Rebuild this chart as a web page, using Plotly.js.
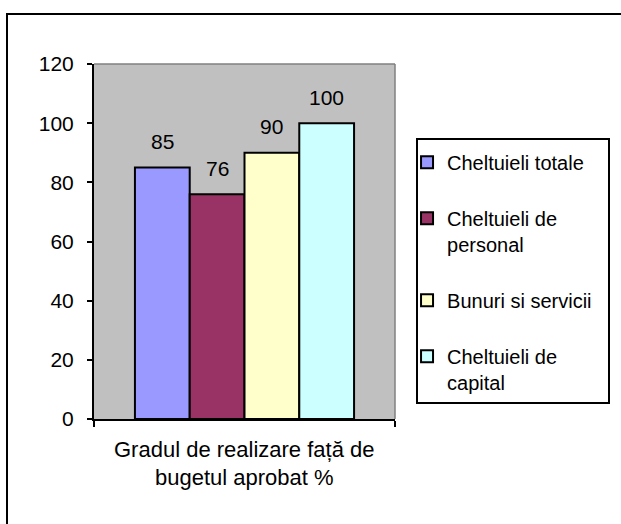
<!DOCTYPE html>
<html>
<head>
<meta charset="utf-8">
<script src="https://cdn.plot.ly/plotly-3.0.1.min.js"></script>
<style>
  html, body { margin: 0; padding: 0; background: #fff; overflow: hidden; }
  #wrap { position: relative; width: 621px; height: 524px; }
  #chart { position: absolute; left: 0; top: 0; width: 621px; height: 524px; }
  #frame { position: absolute; left: 6px; top: 13px; width: 615px; height: 511px;
           border-left: 2px solid #000; border-top: 2px solid #000; pointer-events: none; }
</style>
</head>
<body>
<div id="wrap"><div id="chart"></div><div id="frame"></div></div>
<script>
// ---- data ----
const categories = ["Gradul de realizare față de bugetul aprobat %"];
const categoryLabelLines = ["Gradul de realizare față de", "bugetul aprobat %"];
const seriesNames = ["Cheltuieli totale", "Cheltuieli de personal", "Bunuri si servicii", "Cheltuieli de capital"];
const legendLabels = ["Cheltuieli totale", "Cheltuieli de<br>personal", "Bunuri si servicii", "Cheltuieli de<br>capital"];
const values = [85, 76, 90, 100];
const colors = ["#9999FF", "#993366", "#FFFFCC", "#CCFFFF"];
const yTickValues = [0, 20, 40, 60, 80, 100, 120];

// ---- layout helpers ----
const FONT = "Liberation Sans, Arial, sans-serif";
const bargap = 0.272;
const n = values.length;
const groupW = 1 - bargap;
const barW = groupW / n;

const traces = values.map((v, i) => ({
  type: "bar",
  x: categories,
  y: [v],
  name: legendLabels[i],
  legendgroup: "g" + i,
  marker: { color: colors[i], line: { color: "#000", width: 2 } },
  hovertext: [seriesNames[i]],
  hoverinfo: "text+y"
}));

const annotations = [];
values.forEach((v, i) => {
  annotations.push({
    x: -groupW / 2 + barW * (i + 0.5), xref: "x",
    y: v, yref: "y",
    text: String(v), showarrow: false,
    yanchor: "middle", yshift: 26,
    font: { family: FONT, size: 21, color: "#000" }
  });
});
const lineY = [-0.0873, -0.166];
categoryLabelLines.forEach((t, k) => {
  annotations.push({
    x: 0, xref: "x", y: lineY[k], yref: "paper",
    text: t, showarrow: false, yanchor: "middle", xanchor: "center",
    font: { family: FONT, size: 22, color: "#000" }
  });
});

const layout = {
  width: 621, height: 524,
  margin: { l: 94, r: 226, t: 64, b: 105 },
  paper_bgcolor: "rgba(0,0,0,0)",
  plot_bgcolor: "#C0C0C0",
  font: { family: FONT, size: 20, color: "#000" },
  barmode: "group",
  bargap: bargap,
  bargroupgap: 0,
  showlegend: true,
  legend: {
    x: 1.04, xanchor: "left",
    y: 0.778, yanchor: "top",
    bgcolor: "rgba(0,0,0,0)",
    borderwidth: 0,
    font: { family: FONT, size: 20, color: "#000" },
    traceorder: "grouped",
    tracegroupgap: 27,
    valign: "top"
  },
  xaxis: {
    type: "category",
    showline: true, linecolor: "#000", linewidth: 2,
    ticks: "outside", tickson: "boundaries", ticklen: 6, tickwidth: 2, tickcolor: "#000",
    showticklabels: false, showgrid: false, zeroline: false, fixedrange: true
  },
  yaxis: {
    range: [0, 120],
    tickvals: yTickValues,
    ticktext: yTickValues.map(String),
    showline: true, linecolor: "#000", linewidth: 2,
    ticks: "outside", ticklen: 5, tickwidth: 2, tickcolor: "#000",
    ticklabelstandoff: 9,
    showgrid: false, zeroline: false, fixedrange: true,
    tickfont: { family: FONT, size: 21, color: "#000" }
  },
  shapes: [
    { type: "line", xref: "paper", yref: "paper", x0: 0, x1: 1, y0: 1, y1: 1,
      line: { color: "#808080", width: 1.5 } },
    { type: "line", xref: "paper", yref: "paper", x0: 1, x1: 1, y0: 0, y1: 1,
      line: { color: "#808080", width: 1.5 } },
    { type: "rect", xref: "paper", yref: "paper",
      x0: (417 - 94) / 301, x1: (609 - 94) / 301,
      y0: (419 - 403) / 355, y1: (419 - 139) / 355,
      line: { color: "#000", width: 2 }, fillcolor: "#fff", layer: "below" }
  ],
  annotations: annotations
};

Plotly.newPlot("chart", traces, layout, { displayModeBar: false, staticPlot: true });
</script>
</body>
</html>
